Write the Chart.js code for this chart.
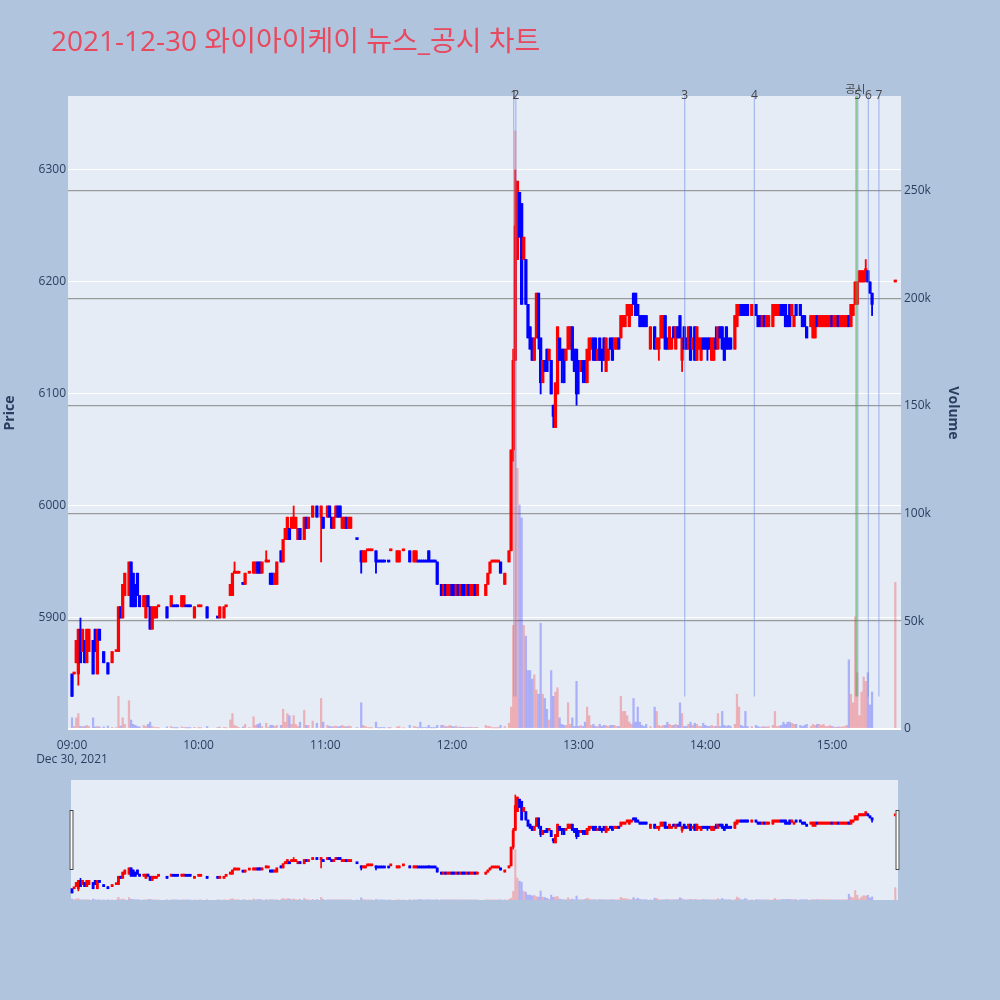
<!DOCTYPE html>
<html>
<head>
<meta charset="utf-8">
<script src="https://cdn.jsdelivr.net/npm/chart.js@4.4.1/dist/chart.umd.min.js"></script>
<style>
  html, body { margin:0; padding:0; width:1000px; height:1000px; background:#b0c4de; overflow:hidden; }
  canvas { position:absolute; left:0; }
  #main { top:0; }
  #mini { top:780px; }
</style>
</head>
<body>
<canvas id="main" width="1000" height="780"></canvas>
<canvas id="mini" width="1000" height="120"></canvas>
<script>
const chartTitle = '2021-12-30 와이아이케이 뉴스_공시 차트';

const times = [
"09:00","09:01","09:02","09:03","09:04","09:05","09:06","09:07","09:08","09:10",
"09:11","09:12","09:13","09:15","09:17","09:19","09:21","09:22","09:23","09:24",
"09:25","09:27","09:28","09:29","09:30","09:31","09:32","09:34","09:35","09:36",
"09:37","09:38","09:39","09:40","09:41","09:45","09:47","09:48","09:49","09:50",
"09:52","09:53","09:54","09:55","09:56","09:58","10:00","10:01","10:04","10:09",
"10:10","10:12","10:13","10:15","10:16","10:17","10:18","10:19","10:21","10:22",
"10:24","10:26","10:27","10:28","10:29","10:30","10:32","10:33","10:34","10:35",
"10:36","10:37","10:39","10:40","10:41","10:42","10:43","10:44","10:45","10:46",
"10:47","10:48","10:50","10:51","10:52","10:54","10:56","10:58","10:59","11:01",
"11:02","11:03","11:04","11:05","11:06","11:07","11:08","11:09","11:10","11:11",
"11:12","11:15","11:17","11:18","11:19","11:20","11:21","11:22","11:24","11:25",
"11:26","11:27","11:28","11:30","11:31","11:34","11:35","11:37","11:40","11:42",
"11:43","11:44","11:45","11:46","11:47","11:48","11:49","11:50","11:51","11:52",
"11:53","11:55","11:56","11:57","11:58","11:59","12:00","12:01","12:02","12:03",
"12:04","12:05","12:06","12:07","12:08","12:09","12:10","12:11","12:12","12:16",
"12:17","12:18","12:19","12:20","12:21","12:22","12:23","12:25","12:27","12:28",
"12:29","12:30","12:31","12:32","12:33","12:34","12:35","12:36","12:37","12:38",
"12:39","12:40","12:41","12:42","12:43","12:44","12:45","12:46","12:47","12:48",
"12:49","12:50","12:51","12:52","12:53","12:54","12:55","12:56","12:57","12:58",
"12:59","13:00","13:01","13:02","13:03","13:04","13:05","13:06","13:07","13:08",
"13:09","13:10","13:11","13:12","13:13","13:14","13:15","13:16","13:17","13:18",
"13:19","13:20","13:21","13:22","13:23","13:24","13:25","13:26","13:27","13:28",
"13:29","13:30","13:31","13:32","13:34","13:36","13:37","13:38","13:39","13:40",
"13:41","13:42","13:43","13:44","13:45","13:46","13:47","13:48","13:49","13:50",
"13:51","13:52","13:53","13:54","13:55","13:56","13:57","13:58","13:59","14:00",
"14:01","14:02","14:03","14:04","14:05","14:06","14:07","14:08","14:09","14:10",
"14:11","14:12","14:14","14:15","14:16","14:17","14:18","14:19","14:20","14:22",
"14:24","14:25","14:26","14:27","14:28","14:29","14:30","14:32","14:33","14:34",
"14:35","14:36","14:37","14:38","14:39","14:40","14:41","14:42","14:43","14:45",
"14:46","14:47","14:48","14:50","14:51","14:52","14:53","14:54","14:55","14:56",
"14:57","14:58","14:59","15:00","15:01","15:02","15:03","15:04","15:05","15:06",
"15:07","15:08","15:09","15:10","15:11","15:12","15:13","15:14","15:15","15:16",
"15:17","15:18","15:19","15:30"];

const opens = [
5850,5850,5860,5850,5890,5870,5880,5860,5870,5880,
5890,5850,5890,5870,5860,5860,5870,5870,5910,5900,
5920,5920,5950,5940,5930,5940,5920,5910,5900,5920,
5910,5890,5900,5900,5910,5910,5910,5910,5910,5910,
5910,5910,5910,5910,5910,5900,5910,5910,5910,5900,
5900,5900,5910,5920,5920,5940,5940,5940,5930,5930,
5940,5940,5940,5950,5950,5940,5950,5950,5940,5940,
5930,5930,5960,5950,5970,5970,5980,5980,5980,5980,
5970,5980,5970,5990,5980,5990,6000,5990,5990,5990,
6000,5990,5980,5990,6000,6000,5980,5980,5990,5980,
5980,5970,5960,5950,5950,5960,5960,5960,5960,5950,
5950,5950,5950,5950,5960,5950,5950,5960,5960,5950,
5950,5950,5950,5950,5950,5950,5960,5950,5950,5950,
5950,5930,5920,5930,5920,5920,5930,5930,5920,5930,
5920,5930,5930,5920,5930,5920,5920,5930,5920,5920,
5930,5940,5950,5950,5950,5950,5950,5930,5950,5960,
6050,6130,6220,6280,6270,6220,6220,6180,6160,6150,
6130,6150,6190,6150,6110,6130,6140,6130,6130,6090,
6070,6100,6150,6140,6140,6130,6140,6140,6160,6140,
6140,6130,6120,6130,6130,6110,6130,6140,6150,6150,
6130,6150,6140,6150,6120,6130,6150,6150,6140,6140,
6150,6150,6160,6160,6170,6160,6170,6190,6190,6180,
6170,6170,6170,6170,6140,6160,6140,6140,6150,6150,
6170,6150,6140,6140,6160,6140,6160,6170,6130,6160,
6150,6140,6160,6140,6160,6130,6140,6130,6150,6150,
6150,6150,6130,6130,6150,6140,6160,6160,6150,6160,
6150,6150,6140,6160,6170,6180,6180,6180,6180,6170,
6180,6170,6170,6160,6170,6160,6160,6160,6170,6170,
6170,6180,6180,6180,6170,6180,6170,6160,6180,6180,
6170,6170,6160,6160,6150,6150,6170,6160,6160,6160,
6160,6160,6160,6170,6160,6160,6170,6160,6160,6160,
6160,6170,6160,6170,6180,6180,6200,6200,6200,6210,
6210,6200,6190,6200];

const highs = [
5850,5850,5880,5890,5900,5890,5880,5890,5890,5880,
5890,5890,5890,5870,5860,5870,5870,5910,5910,5930,
5940,5950,5950,5940,5930,5940,5920,5920,5920,5920,
5910,5910,5910,5910,5910,5910,5920,5910,5910,5910,
5920,5920,5910,5910,5910,5910,5910,5910,5910,5900,
5910,5910,5910,5930,5940,5950,5940,5940,5930,5940,
5940,5950,5950,5950,5950,5950,5960,5950,5940,5940,
5940,5950,5960,5970,5980,5990,5980,5990,6000,5990,
5980,5980,5990,5990,5990,6000,6000,6000,5990,6000,
6000,5990,5990,6000,6000,6000,5990,5990,5990,5990,
5990,5970,5960,5960,5960,5960,5960,5960,5960,5950,
5950,5950,5950,5950,5960,5960,5960,5960,5960,5960,
5960,5950,5950,5950,5950,5950,5960,5950,5950,5950,
5950,5930,5930,5930,5930,5930,5930,5930,5930,5930,
5930,5930,5930,5930,5930,5930,5930,5930,5930,5930,
5940,5950,5950,5950,5950,5950,5950,5940,5960,6050,
6140,6300,6290,6280,6270,6240,6220,6180,6160,6150,
6150,6190,6190,6150,6130,6130,6140,6140,6130,6090,
6110,6160,6150,6140,6140,6140,6160,6160,6160,6140,
6140,6130,6130,6130,6130,6140,6150,6150,6150,6150,
6140,6150,6140,6150,6150,6140,6150,6150,6150,6150,
6150,6170,6170,6170,6180,6180,6180,6190,6190,6180,
6170,6170,6170,6170,6160,6160,6150,6150,6170,6170,
6170,6150,6160,6150,6160,6160,6160,6170,6150,6160,
6150,6160,6160,6150,6160,6160,6150,6150,6150,6150,
6150,6150,6150,6150,6160,6160,6160,6160,6150,6160,
6150,6150,6170,6180,6180,6180,6180,6180,6180,6180,
6180,6170,6170,6170,6170,6170,6170,6180,6180,6180,
6180,6180,6180,6180,6170,6180,6180,6170,6180,6180,
6170,6170,6160,6170,6170,6170,6170,6170,6170,6170,
6170,6170,6170,6170,6170,6170,6170,6170,6170,6170,
6170,6170,6180,6180,6200,6200,6210,6210,6210,6220,
6210,6200,6190,6200];

const lows = [
5830,5850,5860,5840,5860,5870,5860,5860,5870,5850,
5870,5850,5880,5860,5850,5860,5870,5870,5900,5900,
5920,5920,5910,5910,5910,5920,5910,5910,5900,5910,
5890,5890,5900,5900,5910,5900,5910,5910,5910,5910,
5910,5910,5910,5910,5910,5900,5910,5910,5900,5900,
5900,5900,5910,5920,5920,5940,5940,5940,5930,5930,
5940,5940,5940,5940,5940,5940,5950,5950,5930,5930,
5930,5930,5950,5950,5970,5970,5970,5980,5980,5980,
5970,5970,5970,5980,5980,5990,5990,5950,5980,5990,
5990,5980,5980,5990,5990,5990,5980,5980,5980,5980,
5980,5970,5940,5950,5950,5960,5960,5960,5940,5950,
5950,5950,5950,5950,5960,5950,5950,5960,5950,5950,
5950,5950,5950,5950,5950,5950,5950,5950,5950,5950,
5930,5920,5920,5920,5920,5920,5920,5920,5920,5920,
5920,5920,5920,5920,5920,5920,5920,5920,5920,5920,
5930,5940,5950,5950,5950,5950,5940,5930,5950,5960,
6040,6130,6220,6240,6180,6220,6180,6150,6140,6130,
6130,6150,6140,6100,6110,6120,6120,6130,6100,6070,
6070,6100,6130,6110,6110,6130,6140,6140,6130,6120,
6090,6100,6120,6110,6110,6110,6130,6140,6130,6130,
6130,6130,6120,6130,6120,6130,6140,6130,6140,6140,
6140,6150,6160,6160,6170,6160,6170,6180,6170,6170,
6160,6160,6160,6160,6140,6140,6140,6130,6150,6150,
6140,6140,6140,6140,6150,6140,6150,6150,6120,6140,
6140,6140,6130,6140,6130,6130,6140,6130,6140,6140,
6130,6140,6130,6130,6140,6140,6150,6140,6130,6140,
6140,6140,6140,6160,6170,6170,6170,6170,6170,6170,
6170,6160,6160,6160,6160,6160,6160,6160,6170,6170,
6170,6170,6170,6160,6160,6160,6170,6160,6170,6170,
6160,6160,6150,6160,6150,6150,6160,6160,6160,6160,
6160,6160,6160,6160,6160,6160,6160,6160,6160,6160,
6160,6160,6160,6170,6180,6180,6200,6200,6200,6200,
6200,6190,6170,6200];

const closes = [
5830,5850,5880,5890,5860,5890,5860,5890,5890,5850,
5870,5890,5880,5860,5850,5870,5870,5910,5900,5930,
5940,5950,5910,5910,5910,5920,5910,5920,5920,5910,
5890,5910,5910,5910,5910,5900,5920,5910,5910,5910,
5920,5920,5910,5910,5910,5910,5910,5910,5900,5900,
5910,5910,5910,5930,5940,5940,5940,5940,5930,5940,
5940,5950,5950,5940,5940,5950,5950,5950,5930,5930,
5940,5950,5950,5970,5980,5990,5970,5990,5990,5990,
5980,5970,5990,5980,5990,6000,5990,6000,5980,6000,
5990,5980,5990,6000,5990,5990,5990,5990,5980,5990,
5990,5970,5950,5960,5960,5960,5960,5960,5950,5950,
5950,5950,5950,5950,5960,5960,5960,5960,5950,5960,
5960,5950,5950,5950,5950,5950,5950,5950,5950,5950,
5930,5920,5930,5920,5930,5930,5920,5920,5930,5920,
5930,5920,5920,5930,5920,5930,5930,5920,5930,5930,
5940,5950,5950,5950,5950,5950,5940,5940,5960,6050,
6130,6250,6290,6240,6180,6240,6180,6150,6140,6130,
6150,6190,6150,6110,6130,6120,6120,6140,6100,6080,
6110,6160,6130,6130,6110,6140,6160,6160,6130,6120,
6100,6120,6130,6120,6110,6140,6150,6150,6130,6130,
6140,6130,6130,6130,6150,6140,6140,6130,6150,6150,
6140,6170,6170,6170,6180,6180,6180,6180,6170,6170,
6160,6160,6160,6160,6160,6140,6150,6150,6170,6170,
6140,6140,6160,6150,6150,6160,6150,6150,6150,6140,
6140,6160,6130,6150,6130,6160,6150,6150,6140,6140,
6140,6140,6150,6150,6140,6160,6150,6140,6130,6140,
6140,6140,6170,6180,6180,6170,6170,6170,6170,6180,
6170,6160,6160,6170,6160,6170,6170,6180,6180,6180,
6180,6170,6170,6160,6160,6160,6180,6170,6170,6170,
6160,6160,6150,6170,6170,6170,6160,6170,6170,6170,
6170,6170,6170,6160,6170,6170,6160,6170,6170,6170,
6170,6160,6180,6180,6200,6200,6210,6210,6210,6210,
6200,6190,6180,6200];

const volumes = [
5000,1000,5000,7000,1000,1000,1000,1500,1000,5000,
800,1000,800,800,1200,600,500,15000,1200,5000,
2000,13000,4000,2000,1500,1000,800,1500,1000,2000,
3000,1000,500,500,300,800,1000,300,300,300,
800,500,300,300,300,600,300,300,1000,500,
800,600,300,4000,7000,1500,1000,500,800,2000,
500,5500,1500,2000,2500,1000,2500,500,1500,1500,
1000,1500,1500,9000,3000,7000,6000,2000,6000,2000,
1000,3000,8500,1500,1500,3500,2500,14000,3000,1500,
1000,800,1000,1200,800,1000,1500,1000,800,1200,
1000,500,12000,1500,1000,500,300,300,3000,300,
300,500,300,300,300,800,1000,300,1500,1000,
800,300,3000,300,500,300,1500,300,300,300,
1500,1500,1500,800,1000,1500,1000,800,1200,500,
800,600,500,600,500,700,500,400,600,1500,
1000,1000,300,300,300,300,1500,1000,2500,10000,
48000,278000,121000,104000,98000,48000,43000,27000,27000,23000,
25000,18000,16000,49000,16000,14000,9000,4000,27000,15000,
17000,19000,5000,2000,1500,1500,12000,2000,5000,1000,
22000,1000,1500,1000,3000,10000,6000,1500,2000,1000,
1000,2000,1000,1500,1500,1000,1500,1500,1500,1000,
1000,15000,8000,8000,6000,3000,2000,14000,3000,10000,
3000,1500,1000,2000,1000,10000,8000,1500,1000,1500,
1500,3000,2000,1500,1500,2000,1500,12000,7000,1000,
1000,2000,3000,1500,2500,2000,1000,1000,2500,1500,
1000,1000,1500,1000,1000,7000,1000,8000,1500,1000,
1500,1000,2000,16000,10000,1500,1000,8000,1000,1000,
1500,1000,500,1000,800,800,1000,1500,8000,1000,
1200,1500,3000,2000,3000,3000,2500,2000,2000,1500,
1000,1500,2000,1000,2000,1500,2000,2000,1500,2000,
1000,1000,1500,1000,800,600,800,700,800,1000,
1500,32000,16000,12000,52000,26000,6000,17000,24000,22000,
26000,11000,17000,68000];

const priceTicks = [5900, 6000, 6100, 6200, 6300];
const volumeTicks = [0, 50000, 100000, 150000, 200000, 250000];
const xTickTimes = ['09:00','10:00','11:00','12:00','13:00','14:00','15:00'];
const dateLabel = 'Dec 30, 2021';
const newsTimes = ['12:29','12:30','13:50','14:23','15:12','15:17','15:22'];
const newsLabels = ['1','2','3','4','5','6','7'];
const disclosureTimes = ['15:12'];
const disclosureLabels = ['공시'];

const toMin = t => { const p = t.split(':').map(Number); return (p[0] - 9) * 60 + p[1]; };
const xs = times.map(toMin);
const dayLow = Math.min(...lows);

// plotly-style direction: equal open/close follows change from previous close, else previous direction
const dirs = [];
(function () {
  let prevDir = true, prevClose = null;
  for (let i = 0; i < closes.length; i++) {
    const o = opens[i], c = closes[i];
    let d;
    if (c > o) d = true;
    else if (c < o) d = false;
    else d = (prevClose !== null && c !== prevClose) ? c > prevClose : prevDir;
    dirs.push(d); prevDir = d; prevClose = c;
  }
})();

const UP = '#ff0000', DOWN = '#0000ff';
const UPV = 'rgba(255,0,0,0.25)', DOWNV = 'rgba(0,0,255,0.25)';
const FONT = '"Open Sans", "Noto Sans CJK KR", sans-serif';
const TXT = '#2a3f5f';

Chart.defaults.font.family = FONT;
Chart.defaults.font.size = 12;
Chart.defaults.color = TXT;

function makeDatasets(bodyW, wickW, volW) {
  return [
    { label: 'body', data: xs.map((x, i) => ({ x, y: [opens[i], closes[i]] })),
      backgroundColor: ctx => dirs[ctx.dataIndex] ? UP : DOWN,
      barThickness: bodyW, minBarLength: 2, grouped: false, yAxisID: 'y', order: 0 },
    { label: 'wick', data: xs.map((x, i) => ({ x, y: [lows[i], highs[i]] })),
      backgroundColor: ctx => dirs[ctx.dataIndex] ? UP : DOWN,
      barThickness: wickW, grouped: false, yAxisID: 'y', order: 1 },
    { label: 'volume', data: xs.map((x, i) => ({ x, y: volumes[i] })),
      backgroundColor: ctx => dirs[ctx.dataIndex] ? UPV : DOWNV,
      barThickness: volW, grouped: false, yAxisID: 'y1', order: 2 }
  ];
}

const plotBg = {
  id: 'plotBg',
  beforeDraw(chart, args, opts) {
    const { ctx, chartArea: a } = chart;
    ctx.save();
    ctx.fillStyle = opts.color;
    const inset = opts.inset || 0;
    ctx.fillRect(a.left + inset, a.top, a.width - 2 * inset, a.height);
    ctx.restore();
  }
};

const titlePlugin = {
  id: 'pageTitle',
  afterDraw(chart) {
    const ctx = chart.ctx;
    ctx.save();
    ctx.font = '28px ' + FONT;
    ctx.fillStyle = '#e8495e';
    ctx.textBaseline = 'alphabetic';
    ctx.textAlign = 'left';
    ctx.fillText(chartTitle, 51, 51);
    ctx.restore();
  }
};

const eventPlugin = {
  id: 'events',
  afterDatasetsDraw(chart) {
    const { ctx, chartArea: a } = chart;
    const sx = chart.scales.x, sy = chart.scales.y;
    const yLow = sy.getPixelForValue(dayLow);
    ctx.save();
    disclosureTimes.forEach(t => {
      const x = sx.getPixelForValue(toMin(t)) - 1;
      ctx.strokeStyle = 'rgba(70,170,70,0.55)';
      ctx.lineWidth = 2;
      ctx.beginPath(); ctx.moveTo(x, a.top); ctx.lineTo(x, yLow); ctx.stroke();
    });
    newsTimes.forEach(t => {
      const x = sx.getPixelForValue(toMin(t)) + 0.5;
      ctx.strokeStyle = 'rgba(110,140,235,0.5)';
      ctx.lineWidth = 1.3;
      ctx.beginPath(); ctx.moveTo(x, a.top); ctx.lineTo(x, yLow); ctx.stroke();
    });
    ctx.fillStyle = '#444';
    ctx.textAlign = 'center';
    ctx.textBaseline = 'middle';
    ctx.font = '12px ' + FONT;
    newsTimes.forEach((t, i) => {
      ctx.fillText(newsLabels[i], sx.getPixelForValue(toMin(t)) + 0.5, a.top);
    });
    ctx.font = '11px ' + FONT;
    disclosureTimes.forEach((t, i) => {
      ctx.fillText(disclosureLabels[i], sx.getPixelForValue(toMin(t)) - 2, a.top - 6);
    });
    ctx.restore();
  }
};

const xMin = -1.9, xMax = 392.7;

new Chart(document.getElementById('main'), {
  type: 'bar',
  data: { datasets: makeDatasets(2.6, 1.2, 1.6) },
  options: {
    responsive: false, animation: false, devicePixelRatio: 1,
    layout: { padding: { top: 96, right: 36.6, bottom: 0, left: 0 } },
    plugins: { legend: { display: false }, tooltip: { enabled: false }, plotBg: { color: '#e5ecf6' } },
    scales: {
      x: {
        type: 'linear', min: xMin, max: xMax, offset: false,
        grid: { display: false, drawTicks: false, offset: false }, border: { display: false },
        afterBuildTicks: s => { s.ticks = xTickTimes.map(t => ({ value: toMin(t) })); },
        ticks: { padding: 8, maxRotation: 0, autoSkip: false, color: TXT,
          callback: (v, i) => i === 0 ? [xTickTimes[i], dateLabel] : xTickTimes[i] },
        afterFit: s => { s.height = 50; }
      },
      y: {
        position: 'left', min: 5800, max: 6366,
        afterBuildTicks: s => { s.ticks = priceTicks.map(v => ({ value: v })); },
        grid: { color: '#ffffff', lineWidth: 1, drawTicks: false }, border: { display: false },
        ticks: { padding: 2, color: TXT, callback: v => String(v) },
        title: { display: true, text: 'Price', color: TXT, font: { size: 14, weight: 'bold' }, padding: { top: 2, bottom: 0 } },
        afterFit: s => { s.width = 68; }
      },
      y1: {
        position: 'right', min: -650, max: 294200,
        afterBuildTicks: s => { s.ticks = volumeTicks.map(v => ({ value: v })); },
        grid: { color: c => c.tick && c.tick.value === 0 ? '#ffffff' : '#9a9a9a',
                lineWidth: c => c.tick && c.tick.value === 0 ? 2 : 1.3, drawTicks: false },
        border: { display: false },
        ticks: { padding: 3, color: TXT, callback: v => v === 0 ? '0' : (v / 1000) + 'k' },
        title: { display: true, text: 'Volume', color: TXT, font: { size: 14, weight: 'bold' }, padding: { top: 2, bottom: 0 } },
        afterFit: s => { s.width = 62.4; }
      }
    }
  },
  plugins: [plotBg, eventPlugin, titlePlugin]
});

const sliderHandles = {
  id: 'sliderHandles',
  afterDraw(chart) {
    const { ctx, chartArea: a } = chart;
    ctx.save();
    ctx.fillStyle = '#ffffff';
    ctx.strokeStyle = '#444';
    ctx.lineWidth = 1;
    const h = 60, top = a.top + (a.height - h) / 2;
    [a.left + 1.5, a.right - 5.5].forEach(x => {
      ctx.fillRect(x, top, 4, h);
      ctx.strokeRect(x + 0.5, top + 0.5, 3, h - 1);
    });
    ctx.restore();
  }
};

new Chart(document.getElementById('mini'), {
  type: 'bar',
  data: { datasets: makeDatasets(2.2, 1, 1.4) },
  options: {
    responsive: false, animation: false, devicePixelRatio: 1,
    layout: { padding: { top: 0, right: 99, bottom: 0, left: 68 } },
    plugins: { legend: { display: false }, tooltip: { enabled: false }, plotBg: { color: '#e5ecf6', inset: 3 } },
    scales: {
      x: { type: 'linear', min: xMin, max: xMax, display: false, offset: false, grid: { offset: false } },
      y: { min: 5796, max: 6372, display: false },
      y1: { min: 0, max: 660000, display: false, position: 'right' }
    }
  },
  plugins: [plotBg, sliderHandles]
});
</script>
</body>
</html>
